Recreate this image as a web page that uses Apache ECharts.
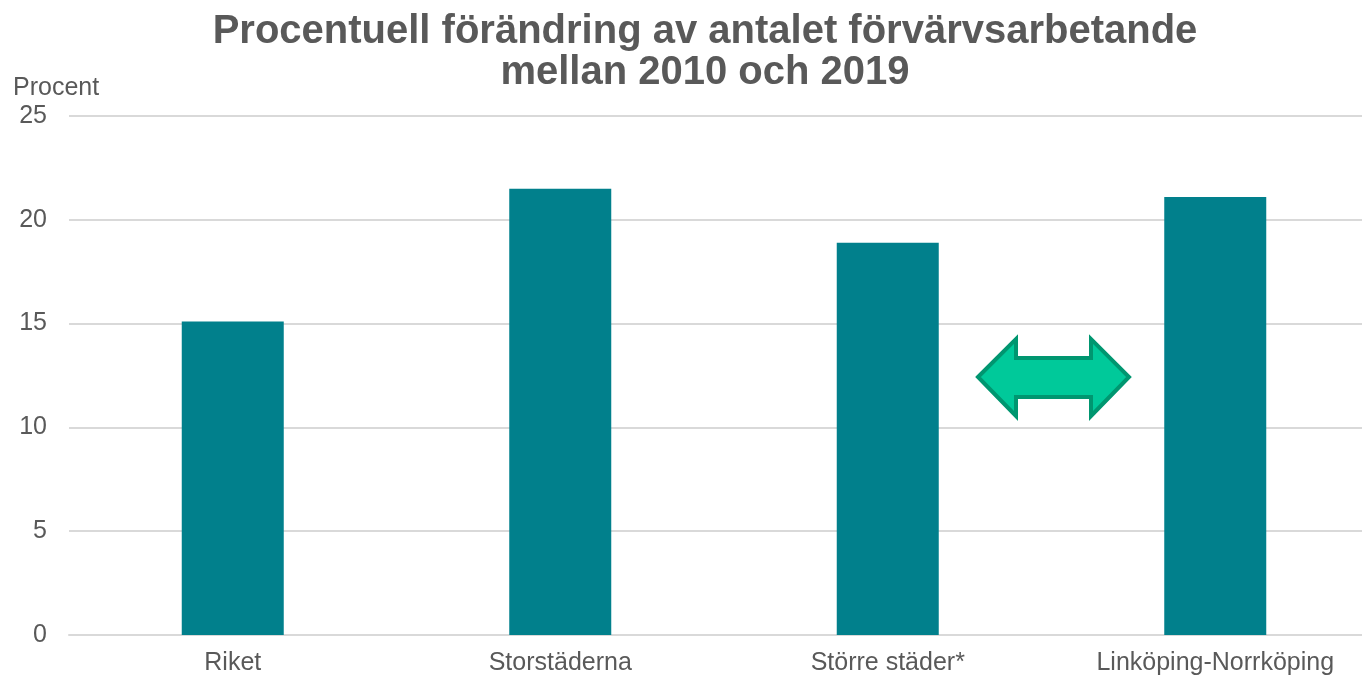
<!DOCTYPE html>
<html>
<head>
<meta charset="utf-8">
<script src="https://cdn.jsdelivr.net/npm/echarts@6/dist/echarts.min.js"></script>
<style>
  html, body { margin: 0; padding: 0; background: #fff; }
  #chart { width: 1362px; height: 677px; }
</style>
</head>
<body>
<div id="chart"></div>
<script>
// data
var categories = ['Riket', 'Storstäderna', 'Större städer*', 'Linköping-Norrköping'];
var values = [15.1, 21.5, 18.9, 21.1];
var yTicks = [0, 5, 10, 15, 20, 25];

var textColor = '#595959';
var font = 'Liberation Sans, Arial';
var myChart = echarts.init(document.getElementById('chart'));

var option = {
  animation: false,
  title: [
    {
      text: 'Procentuell förändring av antalet förvärvsarbetande\nmellan 2010 och 2019',
      left: 705,
      top: 11,
      padding: 0,
      textAlign: 'center',
      textStyle: {
        color: textColor,
        fontFamily: font,
        fontWeight: 'bold',
        fontSize: 40,
        lineHeight: 41
      }
    },
    {
      text: 'Procent',
      left: 13,
      top: 76,
      padding: 0,
      textStyle: {
        color: textColor,
        fontFamily: font,
        fontWeight: 'normal',
        fontSize: 25
      }
    }
  ],
  grid: {
    left: 69,
    width: 1310, // plot runs past the right edge of the picture
    top: 116,
    bottom: 42,
    outerBoundsMode: 'none'
  },
  xAxis: {
    type: 'category',
    data: categories,
    axisLine: { lineStyle: { color: '#d9d9d9', width: 2 } },
    axisTick: { show: false },
    axisLabel: {
      interval: 0,
      margin: 16,
      color: textColor,
      fontFamily: font,
      fontSize: 25
    }
  },
  yAxis: {
    type: 'value',
    min: yTicks[0],
    max: yTicks[yTicks.length - 1],
    interval: 5,
    axisLine: { show: false },
    axisTick: { show: false },
    splitLine: { lineStyle: { color: '#d9d9d9', width: 2 } },
    axisLabel: {
      margin: 22,
      color: textColor,
      fontFamily: font,
      fontSize: 25
    }
  },
  series: [
    {
      type: 'bar',
      data: values,
      barWidth: 102,
      itemStyle: { color: '#01808c' }
    }
  ],
  // double arrow decoration between the last two bars
  graphic: [
    {
      type: 'polygon',
      shape: {
        points: [
          [978, 377], [1016, 339], [1016, 358], [1091, 358], [1091, 339],
          [1129, 377], [1091, 416], [1091, 397], [1016, 397], [1016, 416]
        ]
      },
      style: { fill: '#00c99a', stroke: '#009670', lineWidth: 4, lineJoin: 'miter' },
      z: 10
    }
  ]
};

myChart.setOption(option);
</script>
</body>
</html>
